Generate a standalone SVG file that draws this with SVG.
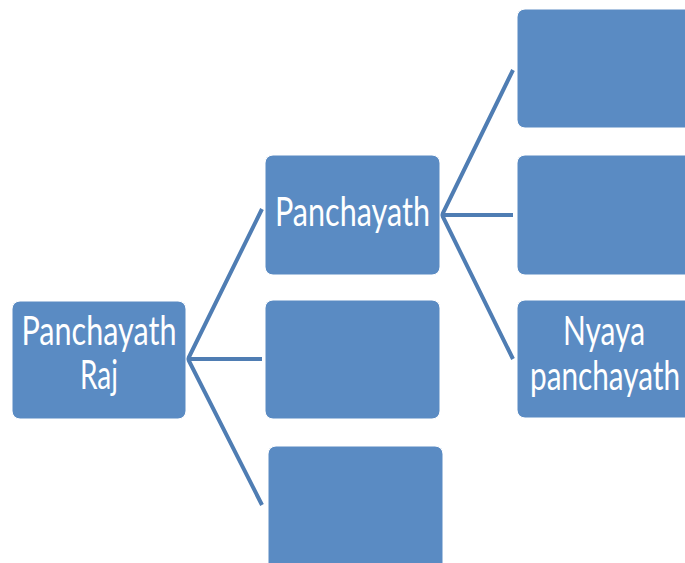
<svg xmlns="http://www.w3.org/2000/svg" width="685" height="563" viewBox="0 0 685 563">
<style>
.box{fill:#5A8BC3;stroke:#FFFFFF;stroke-width:1}
.lbl{fill:#FFFFFF;font-family:Lato,"Open Sans","Liberation Sans",sans-serif;font-size:40px;text-anchor:middle}
.con{stroke:#4F7DB3;stroke-width:4;fill:none;stroke-linejoin:miter}
</style>
<rect width="685" height="563" fill="#FFFFFF"/>
<g id="connectors">
<polyline class="con" points="262,209 188,359 262,505"/>
<line class="con" x1="188" y1="359" x2="262" y2="359"/>
<polyline class="con" points="513,70 442,215 513,359"/>
<line class="con" x1="442" y1="215" x2="513" y2="215"/>
</g>
<g id="raj">
<rect class="box" x="12" y="301" width="174" height="118" rx="8"/>
<text class="lbl" x="99" y="345" textLength="155" lengthAdjust="spacingAndGlyphs">Panchayath</text>
<text class="lbl" x="99" y="389" textLength="38" lengthAdjust="spacingAndGlyphs">Raj</text>
</g>
<g id="panchayath">
<rect class="box" x="265" y="155" width="175" height="120" rx="8"/>
<text class="lbl" x="352.5" y="226" textLength="155" lengthAdjust="spacingAndGlyphs">Panchayath</text>
</g>
<g id="mid-empty">
<rect class="box" x="265" y="300" width="175" height="119" rx="8"/>
</g>
<g id="bottom-empty">
<rect class="box" x="268" y="446" width="175" height="125" rx="8"/>
</g>
<g id="right-top">
<rect class="box" x="517" y="9" width="180" height="119" rx="8"/>
</g>
<g id="right-mid">
<rect class="box" x="517" y="155" width="180" height="120" rx="8"/>
</g>
<g id="nyaya">
<rect class="box" x="517" y="300" width="180" height="118" rx="8"/>
<text class="lbl" x="604" y="345" textLength="82" lengthAdjust="spacingAndGlyphs">Nyaya</text>
<text class="lbl" x="605" y="390" textLength="150" lengthAdjust="spacingAndGlyphs">panchayath</text>
</g>
</svg>
